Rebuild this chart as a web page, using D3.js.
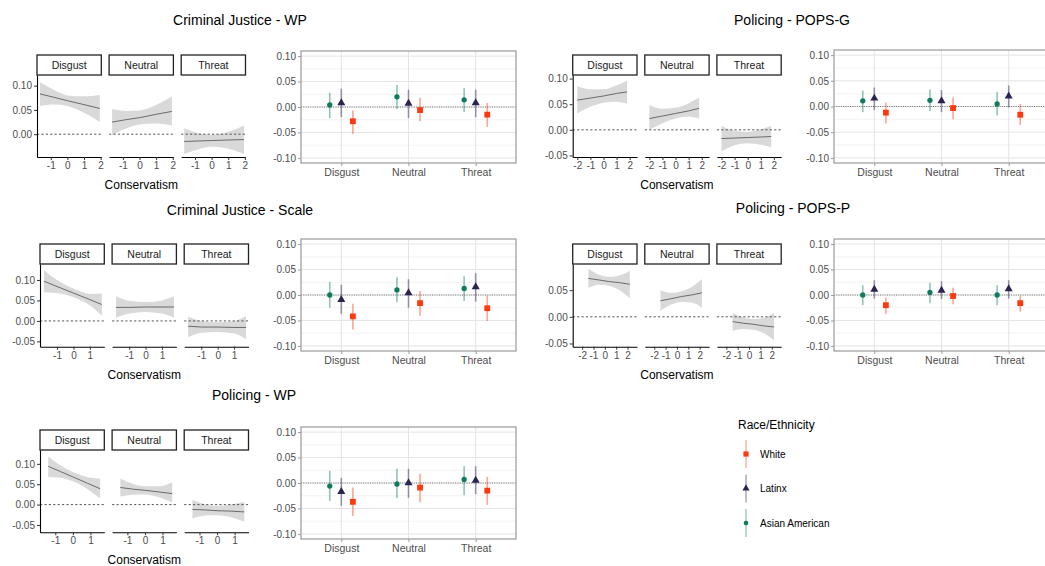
<!DOCTYPE html>
<html>
<head>
<meta charset="utf-8">
<script src="https://cdn.jsdelivr.net/npm/d3@7"></script>
<style>
  body { margin: 0; background: #fff; }
  svg { font-family: "Liberation Sans", Arial, sans-serif; }
</style>
</head>
<body>
<svg id="chart" width="1045" height="566"></svg>
<script>
// ---- data ----
const conditions = ["Disgust", "Neutral", "Threat"];
const groups = ["Asian American", "Latinx", "White"];
const legendOrder = ["White", "Latinx", "Asian American"];

// point estimates per condition: [Asian American, Latinx, White]
const cjWpEst = [[0.004, 0.008, -0.028], [0.020, 0.007, -0.006], [0.014, 0.008, -0.015]];
const cjWpLo  = [[-0.022, -0.020, -0.053], [-0.004, -0.022, -0.028], [-0.010, -0.020, -0.039]];
const cjWpHi  = [[0.028, 0.036, -0.007], [0.043, 0.034, 0.018], [0.037, 0.034, 0.008]];

const popsGEst = [[0.011, 0.016, -0.012], [0.012, 0.011, -0.003], [0.005, 0.020, -0.016]];
const popsGLo  = [[-0.011, -0.007, -0.033], [-0.009, -0.011, -0.025], [-0.017, -0.002, -0.036]];
const popsGHi  = [[0.031, 0.037, 0.008], [0.033, 0.032, 0.018], [0.028, 0.041, 0.005]];

const cjScaleEst = [[0.000, -0.009, -0.042], [0.010, 0.004, -0.016], [0.013, 0.016, -0.026]];
const cjScaleLo  = [[-0.025, -0.037, -0.068], [-0.014, -0.025, -0.041], [-0.012, -0.013, -0.051]];
const cjScaleHi  = [[0.026, 0.020, -0.017], [0.035, 0.031, 0.008], [0.037, 0.043, -0.001]];

const popsPEst = [[0.000, 0.011, -0.020], [0.005, 0.009, -0.002], [0.000, 0.012, -0.016]];
const popsPLo  = [[-0.020, -0.007, -0.037], [-0.016, -0.008, -0.018], [-0.020, -0.007, -0.033]];
const popsPHi  = [[0.019, 0.029, -0.005], [0.024, 0.027, 0.014], [0.019, 0.029, -0.001]];

const polWpEst = [[-0.006, -0.017, -0.037], [-0.002, 0.000, -0.009], [0.007, 0.005, -0.015]];
const polWpLo  = [[-0.035, -0.045, -0.065], [-0.030, -0.029, -0.038], [-0.024, -0.022, -0.043]];
const polWpHi  = [[0.024, 0.010, -0.009], [0.028, 0.028, 0.018], [0.033, 0.033, 0.012]];

// marginal effect by conservatism, per condition: fit / lower / upper
const cjWpX = [-1.65, -0.8, 0, 1, 1.95];
const cjWpFit = [[0.083, 0.076, 0.069, 0.061, 0.053], [0.025, 0.030, 0.034, 0.041, 0.047], [-0.015, -0.014, -0.013, -0.012, -0.011]];
const cjWpRibLo = [[0.058, 0.061, 0.058, 0.044, 0.025], [-0.002, 0.012, 0.020, 0.022, 0.018], [-0.041, -0.031, -0.026, -0.030, -0.041]];
const cjWpRibHi = [[0.107, 0.091, 0.080, 0.078, 0.081], [0.052, 0.048, 0.049, 0.060, 0.078], [0.012, 0.002, -0.001, 0.005, 0.018]];

const popsGX = [-2.0, -1, 0, 1, 1.8];
const popsGFit = [[0.058, 0.062, 0.066, 0.071, 0.074], [0.022, 0.027, 0.032, 0.037, 0.042], [-0.017, -0.016, -0.015, -0.014, -0.013]];
const popsGRibLo = [[0.032, 0.045, 0.053, 0.055, 0.051], [0.000, 0.013, 0.022, 0.026, 0.022], [-0.042, -0.030, -0.026, -0.029, -0.034]];
const popsGRibHi = [[0.085, 0.079, 0.079, 0.087, 0.096], [0.048, 0.041, 0.043, 0.052, 0.063], [0.008, -0.002, -0.004, 0.001, 0.008]];

const cjScaleX = [-1.8, -1, 0, 1, 1.73];
const cjScaleFit = [[0.097, 0.084, 0.068, 0.052, 0.040], [0.033, 0.033, 0.034, 0.034, 0.034], [-0.013, -0.015, -0.015, -0.016, -0.016]];
const cjScaleRibLo = [[0.070, 0.068, 0.058, 0.038, 0.012], [0.008, 0.018, 0.022, 0.018, 0.008], [-0.040, -0.029, -0.027, -0.031, -0.044]];
const cjScaleRibHi = [[0.124, 0.100, 0.079, 0.066, 0.067], [0.060, 0.049, 0.046, 0.050, 0.060], [0.010, 0.000, -0.003, 0.000, 0.012]];

const popsPX = [-1.45, -0.5, 0.4, 1.3, 2.2];
const popsPFit = [[0.072, 0.069, 0.066, 0.064, 0.061], [0.030, 0.034, 0.038, 0.041, 0.045], [-0.009, -0.012, -0.014, -0.017, -0.019]];
const popsPRibLo = [[0.054, 0.060, 0.058, 0.050, 0.035], [0.011, 0.023, 0.028, 0.027, 0.017], [-0.026, -0.023, -0.024, -0.031, -0.044]];
const popsPRibHi = [[0.090, 0.079, 0.075, 0.078, 0.086], [0.050, 0.045, 0.048, 0.056, 0.071], [0.007, -0.001, -0.004, -0.002, 0.007]];

const polWpX = [-1.4, -0.7, 0, 0.8, 1.55];
const polWpFit = [[0.094, 0.081, 0.068, 0.053, 0.039], [0.042, 0.038, 0.035, 0.031, 0.027], [-0.012, -0.013, -0.015, -0.016, -0.018]];
const polWpRibLo = [[0.068, 0.066, 0.057, 0.039, 0.015], [0.020, 0.024, 0.025, 0.018, 0.005], [-0.034, -0.027, -0.026, -0.031, -0.042]];
const polWpRibHi = [[0.118, 0.096, 0.080, 0.068, 0.064], [0.064, 0.051, 0.045, 0.045, 0.055], [0.011, 0.001, -0.003, 0.000, 0.007]];

const dotTicks = [-0.10, -0.05, 0, 0.05, 0.10];

// ---- style ----
const color = d3.scaleOrdinal().domain(groups).range(["#0f7a5e", "#2b2352", "#fb3a10"]);
const shape = d3.scaleOrdinal().domain(groups).range([d3.symbolCircle, d3.symbolTriangle, d3.symbolSquare]);
const shapeSize = d3.scaleOrdinal().domain(groups).range([22, 28, 34]);
const axisGrey = "#4d4d4d";

const svg = d3.select("#chart");
const fmt2 = d => d.toFixed(2);

// ---- panels ----
const panels = [
  { title: "Criminal Justice - WP", titleX: 240, titleY: 25,
    left: 37, stripTop: 55, bottom: 157, xDomain: [-1.83, 2.04], yDomain: [-0.047, 0.122],
    xTicks: [-1, 0, 1, 2], yTicks: [0, 0.05, 0.10],
    xs: cjWpX, fit: cjWpFit, lo: cjWpRibLo, hi: cjWpRibHi,
    dot: { x0: 301, x1: 516, y0: 51, y1: 163, est: cjWpEst, lo: cjWpLo, hi: cjWpHi } },
  { title: "Policing - POPS-G", titleX: 792, titleY: 25,
    left: 572.7, stripTop: 55, bottom: 157, xDomain: [-2.35, 2.56], yDomain: [-0.053, 0.107],
    xTicks: [-2, -1, 0, 1, 2], yTicks: [-0.05, 0, 0.05, 0.10],
    xs: popsGX, fit: popsGFit, lo: popsGRibLo, hi: popsGRibHi,
    dot: { x0: 834, x1: 1049, y0: 50, y1: 163, est: popsGEst, lo: popsGLo, hi: popsGHi } },
  { title: "Criminal Justice - Scale", titleX: 240, titleY: 215,
    left: 40, stripTop: 244, bottom: 346.7, xDomain: [-2.04, 1.88], yDomain: [-0.063, 0.139],
    xTicks: [-1, 0, 1], yTicks: [-0.05, 0, 0.05, 0.10],
    xs: cjScaleX, fit: cjScaleFit, lo: cjScaleRibLo, hi: cjScaleRibHi,
    dot: { x0: 301, x1: 516, y0: 239, y1: 351, est: cjScaleEst, lo: cjScaleLo, hi: cjScaleHi } },
  { title: "Policing - POPS-P", titleX: 793, titleY: 213,
    left: 572.7, stripTop: 244, bottom: 346.7, xDomain: [-2.83, 2.83], yDomain: [-0.056, 0.099],
    xTicks: [-2, -1, 0, 1, 2], yTicks: [-0.05, 0, 0.05],
    xs: popsPX, fit: popsPFit, lo: popsPRibLo, hi: popsPRibHi,
    dot: { x0: 834, x1: 1049, y0: 239, y1: 351, est: popsPEst, lo: popsPLo, hi: popsPHi } },
  { title: "Policing - WP", titleX: 254, titleY: 400,
    left: 40, stripTop: 430, bottom: 532.3, xDomain: [-1.87, 1.79], yDomain: [-0.068, 0.134],
    xTicks: [-1, 0, 1], yTicks: [-0.05, 0, 0.05, 0.10],
    xs: polWpX, fit: polWpFit, lo: polWpRibLo, hi: polWpRibHi,
    dot: { x0: 301, x1: 516, y0: 427, y1: 539, est: polWpEst, lo: polWpLo, hi: polWpHi } }
];

const facetW = 64.3, facetGap = 7.8, stripH = 20;

panels.forEach(p => {
  svg.append("text")
    .attr("x", p.titleX).attr("y", p.titleY)
    .attr("text-anchor", "middle")
    .style("font-size", "14px").attr("fill", "#000")
    .text(p.title);
  drawRibbons(p);
  drawDots(p.dot);
});

function drawRibbons(p) {
  const plotTop = p.stripTop + stripH;
  const y = d3.scaleLinear().domain(p.yDomain).range([p.bottom, plotTop]);

  conditions.forEach((cond, ci) => {
    const fx = p.left + ci * (facetW + facetGap);
    const x = d3.scaleLinear().domain(p.xDomain).range([fx, fx + facetW]);
    const g = svg.append("g");
    const rows = p.xs.map((xv, i) => ({ x: xv, fit: p.fit[ci][i], lo: p.lo[ci][i], hi: p.hi[ci][i] }));

    // strip
    g.append("rect")
      .attr("x", fx).attr("y", p.stripTop)
      .attr("width", facetW).attr("height", stripH)
      .attr("fill", "#fff").attr("stroke", "#222").attr("stroke-width", 1.3);
    g.append("text")
      .attr("x", fx + facetW / 2).attr("y", p.stripTop + stripH / 2)
      .attr("dy", "0.35em").attr("text-anchor", "middle")
      .style("font-size", "10.5px").attr("fill", "#1a1a1a")
      .text(cond);

    // ribbon + fit
    g.append("path")
      .datum(rows)
      .attr("fill", "#d9d9d9")
      .attr("d", d3.area().x(d => x(d.x)).y0(d => y(d.lo)).y1(d => y(d.hi)).curve(d3.curveMonotoneX));
    g.append("path")
      .datum(rows)
      .attr("fill", "none").attr("stroke", "#5e5e5e").attr("stroke-width", 0.9)
      .attr("d", d3.line().x(d => x(d.x)).y(d => y(d.fit)));

    // zero reference
    g.append("line")
      .attr("x1", fx).attr("x2", fx + facetW)
      .attr("y1", y(0)).attr("y2", y(0))
      .attr("stroke", "#555").attr("stroke-width", 1)
      .attr("stroke-dasharray", "2.2,2.2");

    // x axis
    const xa = g.append("g")
      .attr("transform", `translate(0,${p.bottom})`)
      .call(d3.axisBottom(x).tickValues(p.xTicks).tickSize(3).tickSizeOuter(0).tickPadding(2).tickFormat(d => String(d)));
    styleClassic(xa);

    if (ci === 0) {
      const ya = g.append("g")
        .attr("transform", `translate(${fx},0)`)
        .call(d3.axisLeft(y).tickValues(p.yTicks).tickSize(3).tickSizeOuter(0).tickPadding(2).tickFormat(fmt2));
      styleClassic(ya);
    }
  });

  const span0 = p.left, span1 = p.left + 3 * facetW + 2 * facetGap;
  svg.append("text")
    .attr("x", (span0 + span1) / 2).attr("y", p.bottom + 32)
    .attr("text-anchor", "middle")
    .style("font-size", "12px").attr("fill", "#000")
    .text("Conservatism");
}

function styleClassic(a) {
  a.select(".domain").attr("stroke", "#000").attr("stroke-width", 1.1);
  a.selectAll(".tick line").attr("stroke", "#333");
  a.selectAll(".tick text").attr("fill", axisGrey).style("font-size", "10px");
}

function drawDots(d) {
  const x = d3.scalePoint().domain(conditions).range([d.x0, d.x1]).padding(0.6);
  const step = x.step();
  const dodge = d3.scalePoint().domain(groups).range([-0.172 * step, 0.172 * step]);
  const y = d3.scaleLinear().domain([-0.11, 0.11]).range([d.y1, d.y0]);
  const g = svg.append("g");

  // grid
  const minor = d3.range(-0.075, 0.1, 0.05);
  g.selectAll(".minor").data(minor).join("line")
    .attr("x1", d.x0).attr("x2", d.x1)
    .attr("y1", v => y(v)).attr("y2", v => y(v))
    .attr("stroke", "#f0f0f0").attr("stroke-width", 0.8);
  g.selectAll(".major").data(dotTicks).join("line")
    .attr("x1", d.x0).attr("x2", d.x1)
    .attr("y1", v => y(v)).attr("y2", v => y(v))
    .attr("stroke", "#e4e4e4").attr("stroke-width", 1);
  g.selectAll(".vmajor").data(conditions).join("line")
    .attr("x1", c => x(c)).attr("x2", c => x(c))
    .attr("y1", d.y0).attr("y2", d.y1)
    .attr("stroke", "#e4e4e4").attr("stroke-width", 1);

  // zero line
  g.append("line")
    .attr("x1", d.x0).attr("x2", d.x1)
    .attr("y1", y(0)).attr("y2", y(0))
    .attr("stroke", "#666").attr("stroke-width", 0.9)
    .attr("stroke-dasharray", "1,1.3");

  // points + intervals
  const rows = [];
  conditions.forEach((c, ci) => groups.forEach((gname, gi) => {
    rows.push({ cond: c, group: gname, est: d.est[ci][gi], lo: d.lo[ci][gi], hi: d.hi[ci][gi] });
  }));
  g.selectAll(".bar").data(rows).join("line")
    .attr("x1", r => x(r.cond) + dodge(r.group)).attr("x2", r => x(r.cond) + dodge(r.group))
    .attr("y1", r => y(r.lo)).attr("y2", r => y(r.hi))
    .attr("stroke", r => color(r.group)).attr("stroke-opacity", 0.45).attr("stroke-width", 1.6);
  g.selectAll(".pt").data(rows).join("path")
    .attr("transform", r => `translate(${x(r.cond) + dodge(r.group)},${y(r.est)})`)
    .attr("d", r => d3.symbol().type(shape(r.group)).size(shapeSize(r.group))())
    .attr("fill", r => color(r.group));

  // border
  g.append("rect")
    .attr("x", d.x0).attr("y", d.y0)
    .attr("width", d.x1 - d.x0).attr("height", d.y1 - d.y0)
    .attr("fill", "none").attr("stroke", "#9a9a9a").attr("stroke-width", 1.2);

  // axes
  const ya = g.append("g").attr("transform", `translate(${d.x0},0)`)
    .call(d3.axisLeft(y).tickValues(dotTicks).tickSize(3).tickPadding(2).tickFormat(fmt2));
  const xa = g.append("g").attr("transform", `translate(0,${d.y1})`)
    .call(d3.axisBottom(x).tickSize(3).tickPadding(3));
  [ya, xa].forEach(a => {
    a.select(".domain").remove();
    a.selectAll(".tick line").attr("stroke", "#9a9a9a");
    a.selectAll(".tick text").attr("fill", axisGrey).style("font-size", "10px");
  });
  xa.selectAll(".tick text").style("font-size", "10.5px");
}

// ---- legend ----
const lg = svg.append("g");
lg.append("text").attr("x", 738).attr("y", 429)
  .style("font-size", "12px").attr("fill", "#000").text("Race/Ethnicity");
legendOrder.forEach((gname, i) => {
  const cy = 454 + i * 34.5;
  lg.append("line")
    .attr("x1", 746).attr("x2", 746).attr("y1", cy - 14).attr("y2", cy + 14)
    .attr("stroke", color(gname)).attr("stroke-opacity", 0.45).attr("stroke-width", 1.3);
  lg.append("path")
    .attr("transform", `translate(746,${cy})`)
    .attr("d", d3.symbol().type(shape(gname)).size(shapeSize(gname) * 0.8)())
    .attr("fill", color(gname));
  lg.append("text").attr("x", 760).attr("y", cy).attr("dy", "0.35em")
    .style("font-size", "10px").attr("fill", "#000").text(gname);
});
</script>
</body>
</html>
